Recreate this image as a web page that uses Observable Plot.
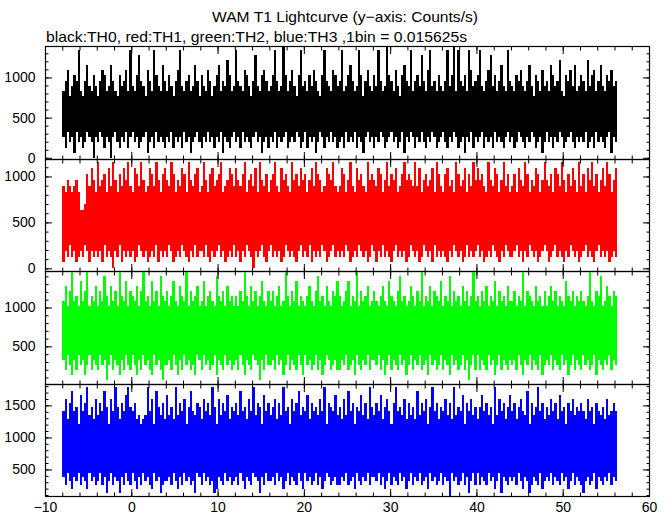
<!DOCTYPE html>
<html><head><meta charset="utf-8">
<script src="https://cdn.jsdelivr.net/npm/d3@7"></script>
<script src="https://cdn.jsdelivr.net/npm/@observablehq/plot@0.6"></script>
<style>
body{margin:0;background:#fff;}
#chart{position:relative;width:672px;height:515px;font-family:"Liberation Sans",Arial,Helvetica,sans-serif;background:#fff;overflow:hidden;}
#chart svg{position:absolute;left:0;}
</style></head><body><div id="chart"></div>
<script>
// ---- data (counts per 0.015625 s bin; max / min per 0.25 s column) ----
const BIN = 0.015625;          // s per bin
const T0 = -7.9, DT = 0.25;    // time of first column, column spacing (s)
const titleText = "WAM T1 Lightcurve (y\u2212axis: Counts/s)";
const subtitleText = "black:TH0, red:TH1, green:TH2, blue:TH3 ,1bin = 0.015625s";

const th0Hi = [13,15,17,12,14,16,15,21,13,12,15,18,14,13,16,14,
 12,15,17,16,13,14,18,15,13,12,16,14,15,17,13,21,
 14,13,16,20,15,14,12,17,15,13,21,16,14,13,18,15,
 13,16,14,12,15,17,21,14,13,15,16,13,14,18,15,12,
 16,14,13,17,15,12,14,16,18,13,15,14,19,16,13,14,
 21,15,14,13,17,16,14,12,15,20,14,13,16,17,15,13,
 14,16,21,15,13,14,22,16,13,15,17,14,12,16,21,14,
 15,13,16,14,17,15,13,12,16,21,15,14,13,17,16,14,
 15,21,13,14,16,18,15,13,14,21,16,12,15,17,14,13,
 16,14,21,15,13,14,22,16,15,13,17,14,12,16,18,15,
 14,21,13,15,16,14,20,15,13,17,21,14,15,13,16,14,
 13,15,21,14,16,22,13,21,15,14,16,13,21,17,14,15,
 16,21,14,13,15,17,20,14,16,13,15,18,14,13,21,15,
 14,13,16,15,17,14,13,15,18,14,12,16,15,13,17,14,
 15,13,18,16,14,15,19,13,12,16,15,17,14,18,13,14,
 16,15,13,19,14,16,17,13,15,18,14,13,16,15,17,14,
 15];
const th0Lo = [4,2,5,3,4,1,5,3,4,2,3,5,4,3,0,4,
 3,5,4,2,4,3,0,4,5,3,2,4,3,5,2,4,
 5,3,4,2,3,4,5,1,3,4,2,5,3,4,3,2,
 4,3,5,2,4,3,4,2,5,3,4,1,3,4,5,3,
 2,4,3,5,3,4,2,4,3,5,1,4,3,2,4,5,
 3,4,2,5,3,4,3,2,4,5,3,4,1,3,4,2,
 4,3,5,2,4,3,4,5,2,3,4,3,5,4,2,3,
 5,2,4,3,4,1,3,5,4,2,4,3,5,3,4,2,
 3,4,2,5,3,4,3,5,2,4,3,1,4,5,3,4,
 2,4,3,5,4,2,3,4,5,3,4,2,3,5,1,4,
 3,5,4,2,4,3,5,3,2,4,3,5,4,2,3,4,
 5,3,2,4,3,5,4,2,3,4,1,4,3,5,2,4,
 3,4,5,2,4,3,4,2,5,3,4,3,2,4,5,3,
 4,2,3,5,4,3,2,4,3,5,4,2,3,4,1,3,
 5,3,4,2,4,3,5,4,2,3,4,5,3,2,4,3,
 4,3,5,2,3,4,2,5,3,4,3,2,4,5,1,4,
 3];

const th1Hi = [14,13,15,14,13,14,15,13,10,10,11,16,14,17,15,13,
 18,14,15,16,13,17,14,18,15,13,16,14,17,15,18,14,
 13,17,16,14,18,15,13,14,17,16,14,18,15,13,16,17,
 15,14,18,16,13,15,14,17,16,13,18,15,14,16,17,13,
 14,18,15,13,16,17,14,15,16,18,13,14,15,17,16,14,
 17,15,14,16,18,13,15,16,14,17,13,18,15,14,16,13,
 15,16,18,14,13,17,15,16,14,13,18,15,16,14,17,15,
 16,13,15,17,14,18,16,15,13,14,17,16,15,18,14,13,
 14,17,16,13,15,18,14,13,17,15,16,14,13,18,15,16,
 15,14,17,16,13,15,18,14,16,15,17,13,14,16,18,15,
 16,15,14,18,14,17,13,15,16,14,15,17,13,18,16,14,
 13,16,17,14,15,13,18,16,14,15,17,13,16,14,18,15,
 17,15,16,14,13,18,15,14,17,16,13,15,18,14,16,13,
 14,16,13,17,15,14,18,16,13,15,14,17,16,13,15,18,
 15,14,16,13,17,16,14,18,15,13,16,14,17,15,13,18,
 14,16,13,17,15,18,14,16,13,15,17,14,18,16,13,15,
 17];
const th1Lo = [1,3,2,4,2,3,1,2,3,2,4,3,1,3,2,3,
 2,3,1,4,2,3,2,0,3,2,4,1,3,2,3,2,
 3,1,2,4,3,2,3,1,2,3,2,4,1,3,2,3,
 2,4,3,1,2,3,2,4,3,2,1,3,2,4,2,3,
 3,2,4,2,1,3,2,3,4,2,3,1,2,3,2,4,
 2,3,1,3,2,4,3,2,0,3,2,3,4,2,1,3,
 4,2,3,2,3,1,2,4,3,2,3,2,1,3,4,2,
 3,2,4,1,3,2,3,2,4,3,1,2,3,4,2,3,
 2,3,2,4,3,1,2,3,2,4,3,2,3,1,2,4,
 3,1,3,2,4,2,3,2,1,3,4,2,3,2,3,1,
 2,4,3,2,3,1,2,4,3,2,3,1,4,2,3,2,
 3,2,1,3,2,4,3,2,3,1,2,4,2,3,2,3,
 4,2,3,1,2,3,2,4,3,2,1,3,2,4,3,2,
 2,3,4,2,3,1,3,2,4,3,2,3,1,2,3,4,
 3,1,2,3,4,2,3,2,1,3,2,4,3,2,3,1,
 2,3,4,2,3,2,1,3,4,2,3,2,3,1,2,3,
 2];

const th2Hi = [17,20,16,19,23,17,18,16,21,17,19,23,16,18,17,20,
 16,19,17,22,18,16,20,17,19,16,23,18,17,21,16,19,
 18,17,20,16,19,23,17,18,16,21,17,19,16,22,18,17,
 19,16,18,21,17,16,20,18,17,23,16,19,17,18,20,16,
 17,21,16,18,19,17,16,22,18,17,19,16,20,17,18,16,
 18,16,19,17,23,18,16,20,17,19,16,18,21,17,16,19,
 17,19,16,18,20,16,17,23,18,16,19,17,21,16,18,17,
 16,18,20,17,16,19,22,17,18,16,20,17,16,19,18,21,
 18,16,17,19,21,16,18,17,23,16,19,17,18,20,16,17,
 19,17,16,18,20,17,16,21,18,17,16,19,22,17,18,16,
 17,20,18,16,19,17,23,16,18,17,20,16,19,18,17,21,
 16,18,17,22,16,19,17,18,16,20,17,19,16,18,23,17,
 18,16,19,17,20,16,18,17,21,16,19,17,18,16,20,17,
 17,19,16,18,17,23,16,19,18,17,16,20,17,18,16,19,
 16,18,20,17,19,16,18,17,16,21,18,17,19,16,18,17,
 19,17,16,18,23,17,16,19,18,22,16,17,20,18,16,19,
 18];
const th2Lo = [5,3,6,4,2,5,3,6,4,5,2,4,6,3,5,4,
 3,6,4,5,1,4,6,3,5,4,2,5,3,6,4,3,
 6,4,2,5,3,6,4,5,3,2,6,4,5,3,1,4,
 4,5,3,6,4,2,5,3,6,4,5,3,4,2,6,5,
 3,6,4,5,3,4,6,2,5,4,3,6,4,5,3,4,
 5,3,6,4,2,5,4,3,6,5,4,1,5,3,6,4,
 4,5,3,6,4,5,2,4,6,3,5,4,3,6,4,2,
 6,4,5,3,4,6,3,5,2,4,6,5,3,4,5,3,
 3,5,4,6,3,4,5,2,6,4,3,5,4,6,3,5,
 5,4,6,3,5,2,4,6,3,5,4,3,6,4,5,2,
 4,6,3,5,4,6,3,4,5,2,6,4,5,3,4,6,
 3,5,4,2,6,4,5,3,4,6,3,5,1,4,6,3,
 6,3,5,4,3,6,4,5,2,4,6,3,5,4,3,5,
 4,5,3,6,4,2,5,4,6,3,5,4,3,6,2,4,
 5,4,6,3,5,4,3,6,4,5,2,4,6,3,5,4,
 3,6,4,5,3,4,6,2,5,4,3,5,4,6,3,5,
 4];

const th3Hi = [22,25,20,24,27,22,23,19,26,22,24,28,21,23,20,25,
 21,24,22,27,23,19,25,22,28,23,20,24,22,26,28,23,
 22,24,20,21,19,20,21,28,22,25,19,27,23,21,24,20,
 26,21,23,20,28,21,24,22,25,19,23,27,22,21,24,23,
 20,25,22,24,21,28,23,19,25,21,24,22,26,20,23,22,
 24,21,27,22,23,20,25,22,28,21,24,23,19,26,22,24,
 21,23,25,20,24,21,28,22,23,19,25,22,24,27,21,23,
 22,26,20,24,22,23,21,25,22,28,19,24,23,22,26,21,
 23,20,25,21,27,22,24,19,23,22,26,21,24,20,28,23,
 21,24,22,26,20,23,25,22,19,24,28,22,23,21,25,20,
 24,21,23,20,27,21,24,22,25,19,23,28,22,24,20,23,
 22,25,21,24,20,28,21,23,22,26,19,24,22,25,21,23,
 20,23,26,22,24,21,23,19,28,21,25,22,24,20,23,26,
 22,24,20,23,25,22,21,27,19,24,21,23,28,22,24,20,
 23,21,25,22,24,20,26,22,23,19,24,22,25,21,23,22,
 24,22,20,25,22,23,19,24,22,21,23,20,25,21,22,24,
 22];
const th3Lo = [6,4,7,5,3,6,5,7,4,6,5,3,7,5,6,4,
 5,7,4,6,2,5,7,4,6,5,2,6,4,7,5,4,
 7,5,3,6,4,7,5,6,4,3,7,5,6,2,4,5,
 5,6,4,7,5,3,6,4,7,5,6,4,5,2,7,6,
 4,7,5,6,4,5,2,3,6,5,4,7,5,6,4,5,
 6,4,7,5,3,6,5,4,7,6,5,2,6,4,7,5,
 5,6,4,7,5,6,3,5,7,4,6,5,4,7,5,3,
 7,5,6,4,5,7,4,6,3,5,7,6,4,5,6,4,
 4,6,5,7,4,5,6,3,7,5,4,6,5,7,4,6,
 6,5,7,4,6,3,5,7,4,6,5,4,7,5,6,3,
 5,7,4,6,5,7,4,5,6,3,7,5,6,4,5,7,
 4,6,5,1,7,5,6,4,5,7,4,6,2,5,7,4,
 7,4,6,5,4,7,5,6,3,5,7,2,6,5,4,6,
 5,6,4,7,5,3,6,5,2,4,6,5,4,7,3,5,
 6,5,7,4,6,5,4,7,5,6,3,5,7,4,6,5,
 4,2,5,6,4,5,7,3,6,5,4,6,5,7,4,6,
 5];

// axis ticks
const xMajor = [-10,0,10,20,30,40,50,60];
const xMinor = d3.range(-10, 61, 2);
const yMajor0 = [0,500,1000],  yMinor0 = d3.range(0, 1400, 100);
const yMajor1 = [0,500,1000],  yMinor1 = d3.range(0, 1200, 100);
const yMajor2 = [500,1000],    yMinor2 = d3.range(100, 1500, 100);
const yMajor3 = [500,1000,1500], yMinor3 = d3.range(100, 1900, 100);

// ---- layout ----
const panels = [
  {hi: th0Hi, lo: th0Lo, color: "#000000", domain: [-15, 1391], major: yMajor0, minor: yMinor0, top: 46,  h: 113},
  {hi: th1Hi, lo: th1Lo, color: "#ff0000", domain: [-29, 1190], major: yMajor1, minor: yMinor1, top: 159, h: 112},
  {hi: th2Hi, lo: th2Lo, color: "#00ff00", domain: [16, 1469],  major: yMajor2, minor: yMinor2, top: 271, h: 113},
  {hi: th3Hi, lo: th3Lo, color: "#0000ff", domain: [85, 1834],  major: yMajor3, minor: yMinor3, top: 384, h: 112}
];

const chart = document.getElementById("chart");
const FONT = '"Liberation Sans", Arial, Helvetica, sans-serif';
const fmt = d => (d < 0 ? "\u2212" + (-d) : String(d));

// title & subtitle
const ns = "http://www.w3.org/2000/svg";
const tsvg = document.createElementNS(ns, "svg");
tsvg.setAttribute("width", 672); tsvg.setAttribute("height", 46);
tsvg.style.top = "0px";
function addText(str, x, y, anchor, len) {
  const t = document.createElementNS(ns, "text");
  t.setAttribute("x", x); t.setAttribute("y", y);
  t.setAttribute("text-anchor", anchor);
  t.setAttribute("font-family", FONT);
  t.setAttribute("font-size", 15);
  t.setAttribute("textLength", len);
  t.setAttribute("lengthAdjust", "spacingAndGlyphs");
  t.textContent = str;
  tsvg.appendChild(t);
}
addText(titleText, 345, 22, "middle", 266);
addText(subtitleText, 46, 42, "start", 421);
chart.appendChild(tsvg);

const M = 10;
panels.forEach((p, k) => {
  const last = k === panels.length - 1;
  const n = Math.min(p.hi.length, p.lo.length);
  const data = d3.range(n).map(i => ({t: T0 + i * DT, hi: p.hi[i] / BIN, lo: p.lo[i] / BIN}));
  const extraB = last ? 22 : 0;
  const blank = () => "";
  const svg = Plot.plot({
    width: 672,
    height: p.h + 2 * M + extraB,
    marginLeft: 45, marginRight: 23, marginTop: M, marginBottom: M + extraB,
    style: {background: "transparent", overflow: "visible", fontFamily: FONT, fontSize: "14px", color: "black"},
    x: {domain: [-10, 60], label: null},
    y: {domain: p.domain, label: null},
    marks: [
      Plot.ruleX(data, {x: "t", y1: "lo", y2: "hi", stroke: p.color, strokeWidth: 2.3, shapeRendering: "crispEdges", clip: true}),
      Plot.frame({stroke: "black", strokeWidth: 1.2}),
      // y ticks (inward, both sides)
      Plot.axisY(p.major, {anchor: "left", tickSize: 7, dx: 7, tickFormat: blank, label: null}),
      Plot.axisY(p.minor, {anchor: "left", tickSize: 3.5, dx: 3.5, tickFormat: blank, label: null}),
      Plot.axisY(p.major, {anchor: "right", tickSize: 7, dx: -7, tickFormat: blank, label: null}),
      Plot.axisY(p.minor, {anchor: "right", tickSize: 3.5, dx: -3.5, tickFormat: blank, label: null}),
      Plot.axisY(p.major, {anchor: "left", tickSize: 0, tickPadding: 10, tickFormat: fmt, label: null, fontSize: 14}),
      // x ticks (inward, top and bottom)
      Plot.axisX(xMajor, {anchor: "bottom", tickSize: 7, dy: -7, tickFormat: blank, label: null}),
      Plot.axisX(xMinor, {anchor: "bottom", tickSize: 3.5, dy: -3.5, tickFormat: blank, label: null}),
      Plot.axisX(xMajor, {anchor: "top", tickSize: 7, dy: 7, tickFormat: blank, label: null}),
      Plot.axisX(xMinor, {anchor: "top", tickSize: 3.5, dy: 3.5, tickFormat: blank, label: null}),
      last ? Plot.axisX(xMajor, {anchor: "bottom", tickSize: 0, tickPadding: 6, tickFormat: fmt, label: null, fontSize: 14}) : null
    ]
  });
  svg.style.top = (p.top - M) + "px";
  svg.style.position = "absolute";
  svg.style.left = "0px";
  chart.appendChild(svg);
});
</script></body></html>
